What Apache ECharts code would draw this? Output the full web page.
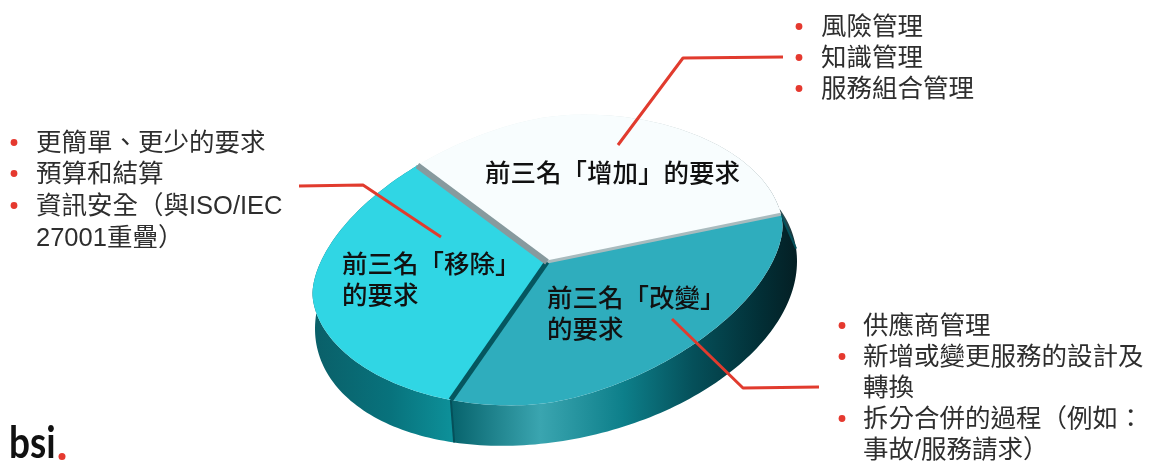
<!DOCTYPE html>
<html lang="zh-Hant">
<head>
<meta charset="utf-8">
<title>前三名要求變更</title>
<style>
  html, body { margin: 0; padding: 0; background: #fff; }
  #chart { width: 1151px; height: 462px; }
</style>
<script src="https://cdn.jsdelivr.net/npm/echarts@6/dist/echarts.min.js"></script>
</head>
<body>
<div id="chart"></div>
<script>
// Three equal shares: each group lists its top three requirements.
const sliceNames = ['增加', '改變', '移除'];
const sliceValues = [3, 3, 3];
const sliceLabels = [
  ['前三名「增加」的要求'],
  ['前三名「改變」', '的要求'],
  ['前三名「移除」', '的要求']
];
const addedItems = ['風險管理', '知識管理', '服務組合管理'];
const removedItems = ['更簡單、更少的要求', '預算和結算', ['資訊安全（與ISO/IEC', '27001重疊）']];
const changedItems = ['供應商管理', ['新增或變更服務的設計及', '轉換'], ['拆分合併的過程（例如：', '事故/服務請求）']];

// Projection of the tilted disc onto the page: upper rim and lower rim.
const disc = {
  apexX: 547, apexY: 262,
  startDeg: -35,
  top: { cx: 547.5, cy: 260, rx: 235, ry: 143, tilt: 0.1425, power: 1.8 },
  bottom: { cx: 556, cy: 295, rx: 241, ry: 147, tilt: 0.14, power: 2 }
};
const topFill = ['#f8fdfe', '#2fadbd', '#30d6e4'];
const seams = [
  { color: '#a9bbbe', width: 3 },
  { color: '#05565f', width: 5 },
  { color: '#879a9e', width: 6 }
];
const sideStops = [
  [[0, '#e8f0f0'], [0.8, '#7d9094'], [1, '#0b2d33']],
  [[0, '#06626b'], [0.26, '#3aa5b0'], [0.5, '#0d7f8a'], [0.7, '#05505a'], [0.9, '#022e35'], [1, '#041f24']],
  [[0, '#0a5f68'], [0.55, '#08727c'], [1, '#0d9099']]
];
const sideRange = [[590, 797], [450, 797], [313, 452]];

const total = sliceValues.reduce((a, b) => a + b, 0);

function angleAt(index) {
  let sum = 0;
  for (let i = 0; i < index; i++) sum += sliceValues[i];
  return (disc.startDeg + sum / total * 360) * Math.PI / 180;
}
function rimPoint(rim, theta) {
  const s = Math.sin(theta), c = Math.cos(theta);
  const r = Math.pow(Math.pow(Math.abs(s), rim.power) + Math.pow(Math.abs(c), rim.power), -1 / rim.power);
  const u = r * s, v = -r * c;
  return [rim.cx + rim.rx * u, rim.cy + rim.ry * v - rim.tilt * rim.rx * u];
}
function arcPoints(rim, a0, a1) {
  const pts = [];
  const steps = 90;
  for (let k = 0; k <= steps; k++) pts.push(rimPoint(rim, a0 + (a1 - a0) * k / steps));
  return pts;
}

function renderSide(params) {
  const i = params.dataIndex;
  const a0 = angleAt(i), a1 = angleAt(i + 1);
  const upper = arcPoints(disc.top, a0, a1);
  const lower = arcPoints(disc.bottom, a0, a1).reverse();
  const range = sideRange[i];
  const p = rimPoint(disc.top, a0), q = rimPoint(disc.bottom, a0);
  return {
    type: 'group',
    children: [
      {
        type: 'polygon',
        shape: { points: upper.concat(lower) },
        style: {
          fill: new echarts.graphic.LinearGradient(range[0], 0, range[1], 0,
            sideStops[i].map(s => ({ offset: s[0], color: s[1] })), true)
        }
      },
      {
        type: 'line',
        shape: { x1: p[0], y1: p[1], x2: q[0], y2: q[1] },
        style: { stroke: '#05505a', lineWidth: 2 }
      }
    ]
  };
}

function renderTop(params) {
  const i = params.dataIndex;
  const a0 = angleAt(i), a1 = angleAt(i + 1);
  const pts = [[disc.apexX, disc.apexY]].concat(arcPoints(disc.top, a0, a1));
  const end = rimPoint(disc.top, a1);
  return {
    type: 'group',
    children: [
      { type: 'polygon', shape: { points: pts }, style: { fill: topFill[i] } },
      {
        type: 'line',
        shape: { x1: disc.apexX, y1: disc.apexY, x2: end[0], y2: end[1] },
        style: { stroke: seams[i].color, lineWidth: seams[i].width },
        z2: 10
      }
    ]
  };
}

const cjkFont = '"Noto Sans CJK TC", sans-serif';
const listFont = '"Liberation Sans", "Noto Sans CJK TC", sans-serif';

function textLine(text, x, y, opts) {
  return {
    type: 'text', x, y, z: 20,
    style: Object.assign({
      text, fill: '#2e2e2e', font: '400 25.5px ' + listFont,
      textAlign: 'left', textVerticalAlign: 'middle'
    }, opts || {})
  };
}
function bulletList(items, bulletX, textX, ys) {
  const out = [];
  let row = 0;
  items.forEach(item => {
    const lines = Array.isArray(item) ? item : [item];
    out.push({
      type: 'circle', z: 20,
      shape: { cx: bulletX, cy: ys[row] + 0.5, r: 3.4 },
      style: { fill: '#e5392f' }
    });
    lines.forEach(line => { out.push(textLine(line, textX, ys[row] + 2)); row++; });
  });
  return out;
}
function leader(points) {
  return {
    type: 'polyline', z: 15,
    shape: { points },
    style: { stroke: '#e13b2e', lineWidth: 3, fill: null, lineJoin: 'round' }
  };
}
function sliceCaption(lines, x, ys) {
  return lines.map((line, k) => textLine(line, x, ys[k], {
    fill: '#111', font: '500 25.5px ' + cjkFont
  }));
}

const chart = echarts.init(document.getElementById('chart'), null, { renderer: 'canvas' });
chart.setOption({
  animation: false,
  backgroundColor: '#ffffff',
  series: [
    {
      type: 'custom', name: '側面', coordinateSystem: 'none', z: 1, silent: true,
      renderItem: renderSide,
      data: sliceValues.map((value, i) => ({ name: sliceNames[i], value }))
    },
    {
      type: 'custom', name: '頂面', coordinateSystem: 'none', z: 2, silent: true,
      renderItem: renderTop,
      data: sliceValues.map((value, i) => ({ name: sliceNames[i], value }))
    }
  ],
  graphic: {
    elements: [
      leader([[618, 145], [683, 58], [783, 57]]),
      leader([[299, 186], [363, 185], [441, 237]]),
      leader([[672, 319], [743, 388], [819, 387]]),
      ...bulletList(addedItems, 799, 821, [26, 57, 88]),
      ...bulletList(removedItems, 14, 36, [142, 173, 205, 237]),
      ...bulletList(changedItems, 842, 863, [325, 356, 387, 418, 449]),
      ...sliceCaption(sliceLabels[0], 485, [172]),
      ...sliceCaption(sliceLabels[1], 547, [297, 328]),
      ...sliceCaption(sliceLabels[2], 342, [263, 294]),
      {
        type: 'text', x: 9, y: 466, z: 20, scaleX: 0.86,
        style: {
          text: 'bsi', fill: '#111', font: '700 43px Lato, sans-serif',
          textAlign: 'left', textVerticalAlign: 'bottom'
        }
      },
      { type: 'circle', z: 20, shape: { cx: 62, cy: 456.5, r: 3.5 }, style: { fill: '#e5392f' } }
    ]
  }
});
</script>
</body>
</html>
